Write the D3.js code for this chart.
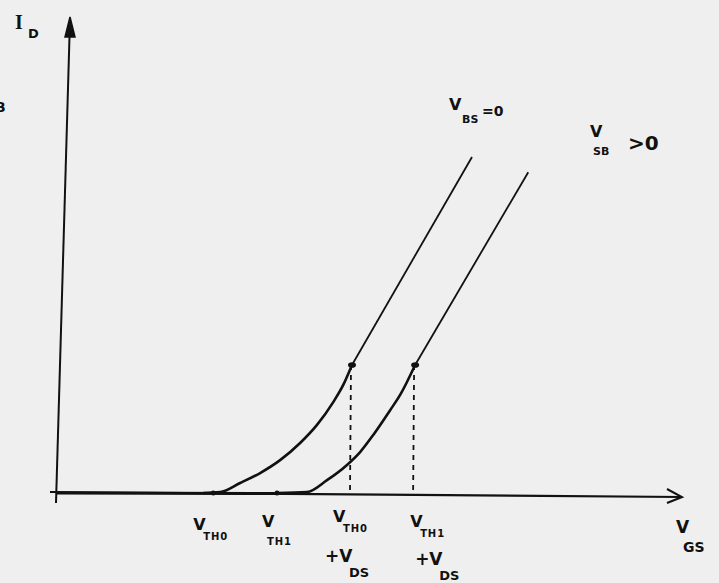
<!DOCTYPE html>
<html>
<head>
<meta charset="utf-8">
<script src="https://cdn.jsdelivr.net/npm/d3@7/dist/d3.min.js"></script>
<style>
body { margin: 0; background: #efefef; }
svg { display: block; }
text { font-family: "DejaVu Sans", sans-serif; font-weight: bold; fill: #111; }
</style>
</head>
<body>
<svg id="chart" width="719" height="583"></svg>
<script>
// sketch of I_D vs V_GS, arbitrary units 0..100 on both axes
var vgsRise1 = [23.4, 26.1, 29.3, 32.5, 35.7, 38.9, 41.6, 44.2, 45.8, 47.2];
var idRise1  = [0, 0.2, 2.1, 4.2, 6.9, 10.5, 14.3, 19.1, 22.7, 26.9];
var vgsLin1  = [47.2, 66.4];
var idLin1   = [26.9, 70.6];

var vgsRise2 = [35.2, 40.0, 43.2, 46.4, 48.5, 50.6, 53.3, 54.9, 57.3];
var idRise2  = [0, 0.2, 2.7, 5.9, 8.6, 12.2, 17.4, 20.6, 26.9];
var vgsLin2  = [57.3, 75.4];
var idLin2   = [26.9, 67.4];

// ticks on V_GS axis
var tickVgs  = [25.0, 35.2, 47.2, 57.3];
var tickMain = ["V", "V", "V", "V"];
var tickSub  = ["TH0", "TH1", "TH0", "TH1"];
var tickPlus = ["", "", "+V", "+V"];
var tickPlusSub = ["", "", "DS", "DS"];

var curveNames = ["BS", "SB"];
var curveTail  = ["=0", ">0"];

var svg = d3.select("#chart");
var x = d3.scaleLinear().domain([0, 100]).range([57, 682]);
var y = d3.scaleLinear().domain([0, 100]).range([493, 17]);

function zip(a, b) { return a.map(function(d, i) { return [d, b[i]]; }); }

var line = d3.line().x(function(d) { return x(d[0]); }).y(function(d) { return y(d[1]); });
var smooth = d3.line().curve(d3.curveMonotoneX)
    .x(function(d) { return x(d[0]); }).y(function(d) { return y(d[1]); });

// axes (hand drawn, slightly tilted)
svg.append("line").attr("x1", x(0) - 1).attr("y1", y(0) + 10)
    .attr("x2", x(0) + 13).attr("y2", y(100) + 2)
    .attr("stroke", "#111").attr("stroke-width", 2);
svg.append("path")
    .attr("d", "M" + (x(0) + 13) + "," + y(100) + " l-5,20 l10,0 z")
    .attr("fill", "#111").attr("stroke", "#111").attr("stroke-width", 1.5);

svg.append("line").attr("x1", x(0) - 7).attr("y1", y(0) - 1)
    .attr("x2", x(100)).attr("y2", y(0) + 4)
    .attr("stroke", "#111").attr("stroke-width", 2.2);
svg.append("path")
    .attr("d", "M" + (x(100) - 15) + "," + (y(0) - 4) + " L" + x(100) + "," + (y(0) + 4) + " L" + (x(100) - 15) + "," + (y(0) + 10))
    .attr("fill", "none").attr("stroke", "#111").attr("stroke-width", 2);
// thicker overlapping strokes near origin
svg.append("line").attr("x1", x(0)).attr("y1", y(0)).attr("x2", x(tickVgs[1])).attr("y2", y(0) + 0.5)
    .attr("stroke", "#111").attr("stroke-width", 3);

// dashed drops from saturation points
[[vgsLin1[0], idLin1[0]], [vgsLin2[0], idLin2[0]]].forEach(function(p) {
    svg.append("line")
        .attr("x1", x(p[0]) - 1).attr("y1", y(p[1]))
        .attr("x2", x(p[0]) - 2).attr("y2", y(0))
        .attr("stroke", "#111").attr("stroke-width", 1.8)
        .attr("stroke-dasharray", "5,5");
});

// rising (square law) parts
svg.append("path").datum(zip(vgsRise1, idRise1)).attr("d", smooth)
    .attr("fill", "none").attr("stroke", "#111").attr("stroke-width", 2.6);
svg.append("path").datum(zip(vgsRise2, idRise2)).attr("d", smooth)
    .attr("fill", "none").attr("stroke", "#111").attr("stroke-width", 2.6);
// linear parts
svg.append("path").datum(zip(vgsLin1, idLin1)).attr("d", line)
    .attr("fill", "none").attr("stroke", "#111").attr("stroke-width", 1.8);
svg.append("path").datum(zip(vgsLin2, idLin2)).attr("d", line)
    .attr("fill", "none").attr("stroke", "#111").attr("stroke-width", 1.8);

// dots
svg.selectAll(".dot").data([[vgsLin1[0], idLin1[0]], [vgsLin2[0], idLin2[0]]])
    .enter().append("ellipse").attr("class", "dot")
    .attr("cx", function(d) { return x(d[0]); }).attr("cy", function(d) { return y(d[1]); })
    .attr("rx", 4).attr("ry", 2.8).attr("fill", "#111");
svg.selectAll(".tickdot").data(tickVgs.slice(0, 2))
    .enter().append("circle").attr("class", "tickdot")
    .attr("cx", function(d) { return x(d); }).attr("cy", y(0))
    .attr("r", 2.5).attr("fill", "#111");

// tick labels; offsets are hand placement
var lay = [
    { vx: -20, vy: 37, sx: -10, sy: 47, px: 0, py: 0 },
    { vx: -15, vy: 34, sx: -10, sy: 52, px: 0, py: 0 },
    { vx: -19, vy: 29, sx: -9,  sy: 39, px: -27, py: 69 },
    { vx: -5,  vy: 34, sx: 5,   sy: 44, px: 0,   py: 72 }
];
tickVgs.forEach(function(t, i) {
    var cx = x(t), L = lay[i];
    svg.append("text").attr("x", cx + L.vx).attr("y", y(0) + L.vy)
        .attr("font-size", 16).text(tickMain[i]);
    svg.append("text").attr("x", cx + L.sx).attr("y", y(0) + L.sy)
        .attr("font-size", 10).attr("textLength", 24).text(tickSub[i]);
    if (tickPlus[i]) {
        svg.append("text").attr("x", cx + L.px).attr("y", y(0) + L.py)
            .attr("font-size", 17).text(tickPlus[i]);
        svg.append("text").attr("x", cx + L.px + 24).attr("y", y(0) + L.py + 15)
            .attr("font-size", 13).text(tickPlusSub[i]);
    }
});

// axis titles
svg.append("text").attr("x", 15).attr("y", 29).attr("font-size", 20)
    .style("font-family", "'Liberation Serif', serif").text("I");
svg.append("text").attr("x", 28).attr("y", 38).attr("font-size", 13).text("D");
svg.append("text").attr("x", 676).attr("y", 533).attr("font-size", 17).text("V");
svg.append("text").attr("x", 683).attr("y", 552).attr("font-size", 14).text("GS");

// curve labels
svg.append("text").attr("x", 449).attr("y", 110).attr("font-size", 16).text("V");
svg.append("text").attr("x", 462).attr("y", 123).attr("font-size", 11).text(curveNames[0]);
svg.append("text").attr("x", 482).attr("y", 116).attr("font-size", 14).text(curveTail[0]);

svg.append("text").attr("x", 590).attr("y", 137).attr("font-size", 16).text("V");
svg.append("text").attr("x", 593).attr("y", 155).attr("font-size", 11).text(curveNames[1]);
svg.append("text").attr("x", 628).attr("y", 150).attr("font-size", 20).text(curveTail[1]);

// cut-off scribble at left edge
svg.append("text").attr("x", -5).attr("y", 112).attr("font-size", 14).text("B");
</script>
</body>
</html>
